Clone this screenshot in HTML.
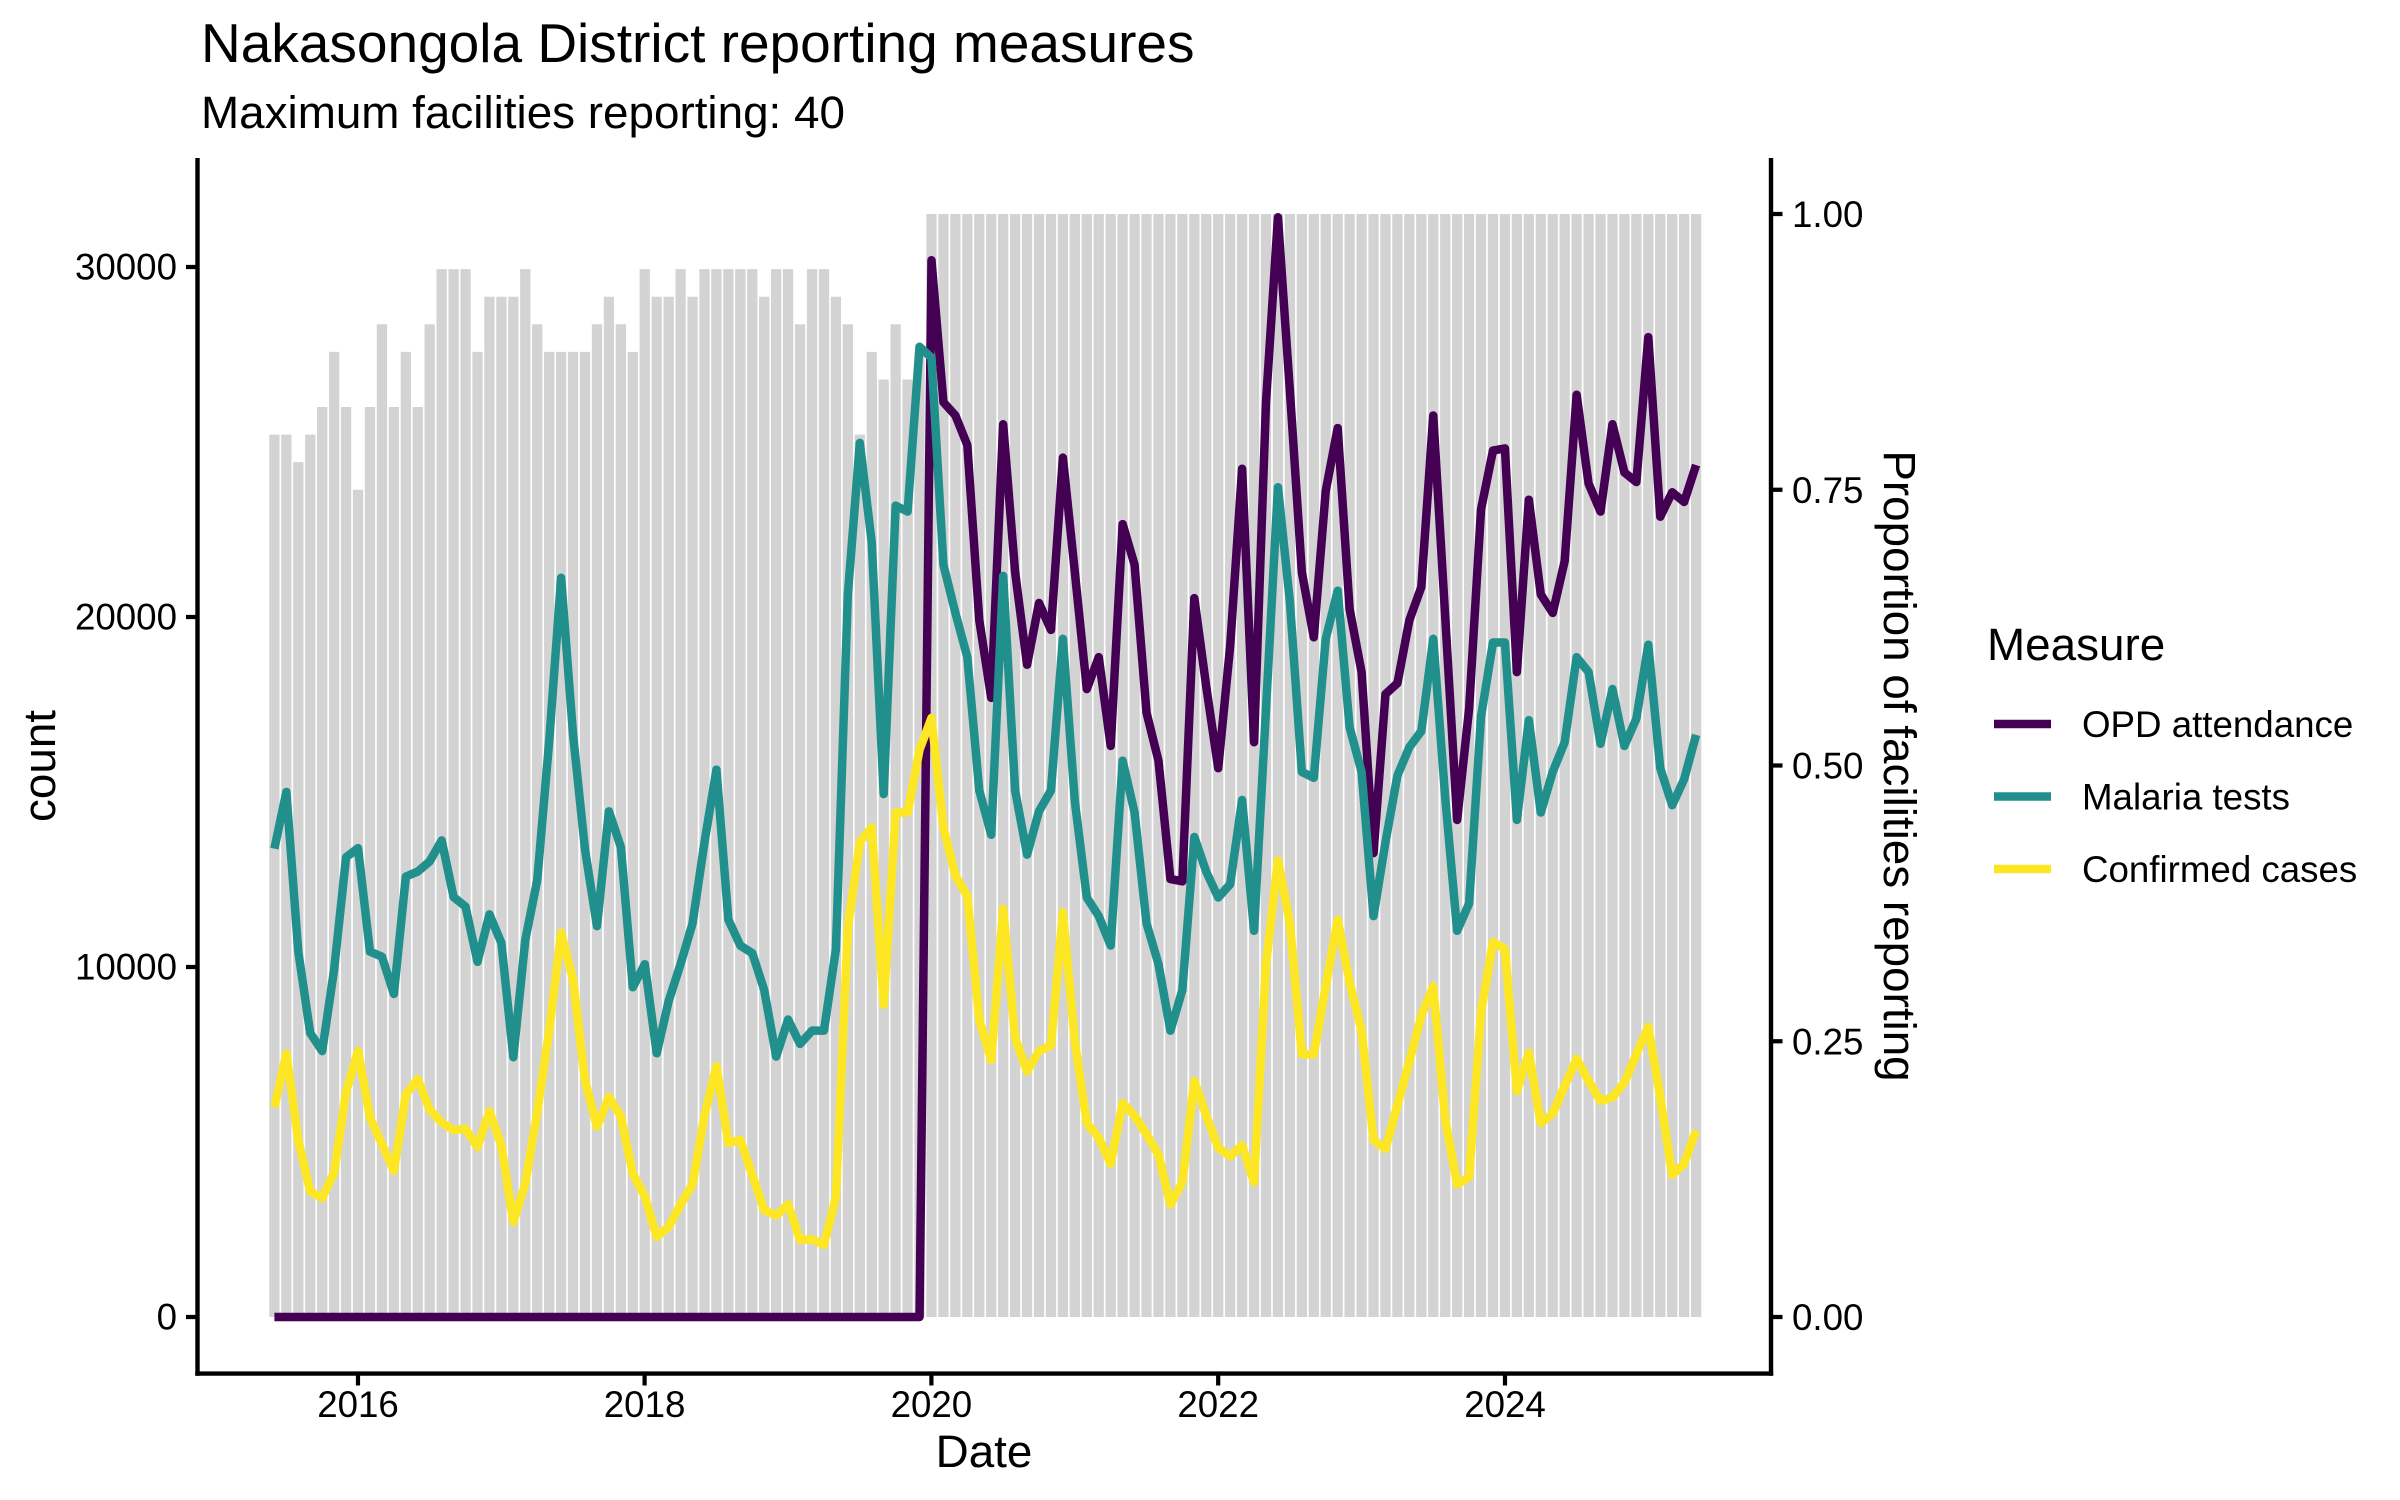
<!DOCTYPE html>
<html>
<head>
<meta charset="utf-8">
<style>
html,body{margin:0;padding:0;background:#fff;}
svg{display:block;}
text{font-family:"Liberation Sans",Arial,Helvetica,sans-serif;fill:#000;}
</style>
</head>
<body>
<svg width="2400" height="1500" viewBox="0 0 2400 1500" xmlns="http://www.w3.org/2000/svg">
<rect x="0" y="0" width="2400" height="1500" fill="#fff"/>

<text x="201" y="62" font-size="55">Nakasongola District reporting measures</text>
<text x="201" y="128" font-size="45.8">Maximum facilities reporting: 40</text>

<g transform="translate(274.4,1317) scale(11.947,-27.575)">
<path fill="#D3D3D3" d="M-0.43 0V32H1.5V31H2.5V32H3.5V33H4.5V35H5.5V33H6.5V30H7.5V33H8.5V36H9.5V33H10.5V35H11.5V33H12.5V36H13.5V38H16.5V35H17.5V37H20.5V38H21.5V36H22.5V35H26.5V36H27.5V37H28.5V36H29.5V35H30.5V38H31.5V37H33.5V38H34.5V37H35.5V38H40.5V37H41.5V38H43.5V36H44.5V38H46.5V37H47.5V36H48.5V32H49.5V35H50.5V34H51.5V36H52.5V34H53.5V35H54.5V40H119.43V0Z"/>
</g>
<line x1="279.535" y1="765.5" x2="1700" y2="765.5" stroke="#fff" stroke-width="1106" stroke-dasharray="1.677 10.27"/>

<g transform="translate(274.4,1317) scale(11.947,-0.035)" fill="none" stroke-linejoin="round" stroke-linecap="butt">
<polyline vector-effect="non-scaling-stroke" stroke="#440154" stroke-width="8.5" points="0,0 54,0 55,30194 56,26138 57,25758 58,24913 59,19909 60,17689 61,25507 62,21280 63,18637 64,20400 65,19631 66,24553 67,21280 68,17941 69,18852 70,16315 71,22654 72,21491 73,17266 74,15893 75,12511 76,12448 77,20540 78,18006 79,15681 80,19166 81,24236 82,16421 83,26138 84,31420 85,26455 86,21280 87,19420 88,23602 89,25398 90,20223 91,18426 92,13253 93,17795 94,18109 95,19909 96,20857 97,25758 98,20012 99,14201 100,17372 101,23076 102,24755 103,24818 104,18426 105,23351 106,20646 107,20117 108,21597 109,26350 110,23813 111,23011 112,25507 113,24130 114,23856 115,27998 116,22865 117,23563 118,23286 119,24342"/>
<polyline vector-effect="non-scaling-stroke" stroke="#21908C" stroke-width="8.5" points="0,13382 1,15001 2,10440 3,8112 4,7598 5,9929 6,13136 7,13396 8,10440 9,10294 10,9229 11,12582 12,12727 13,13019 14,13616 15,11999 16,11722 17,10149 18,11502 19,10685 20,7423 21,10774 22,12479 23,16450 24,21120 25,16633 26,13353 27,11168 28,14448 29,13425 30,9420 31,10080 32,7535 33,9026 34,10083 35,11245 36,13568 37,15639 38,11351 39,10611 40,10397 41,9340 42,7441 43,8498 44,7801 45,8181 46,8181 47,10506 48,20646 49,24975 50,22125 51,14941 52,23182 53,23011 54,27723 55,27406 56,21491 57,20117 58,18852 59,15047 60,13779 61,21174 62,15047 63,13210 64,14450 65,15047 66,19377 67,14730 68,11985 69,11454 70,10611 71,15893 72,14413 73,11245 74,10083 75,8181 76,9340 77,13716 78,12722 79,11985 80,12365 81,14773 82,11034 83,17372 84,23707 85,20434 86,15575 87,15407 88,19377 89,20751 90,16844 91,15575 92,11454 93,13568 94,15470 95,16280 96,16738 97,19377 98,14836 99,11034 100,11813 101,17160 102,19271 103,19271 104,14201 105,17052 106,14413 107,15575 108,16421 109,18852 110,18426 111,16378 112,17941 113,16315 114,17095 115,19209 116,15681 117,14624 118,15364 119,16633"/>
<polyline vector-effect="non-scaling-stroke" stroke="#FDE725" stroke-width="8.5" points="0,5995 1,7523 2,5047 3,3590 4,3399 5,4130 6,6432 7,7598 8,5704 9,4944 10,4173 11,6358 12,6795 13,5921 14,5558 15,5338 16,5381 17,4859 18,5878 19,4901 20,2716 21,3807 22,5850 23,8180 24,10977 25,9637 26,6752 27,5441 28,6287 29,5733 30,4099 31,3450 32,2290 33,2582 34,3216 35,3787 36,5753 37,7167 38,4970 39,5056 40,4062 41,3048 42,2899 43,3216 44,2199 45,2222 46,2056 47,3428 48,11140 49,13568 50,13990 51,8920 52,14413 53,14413 54,16209 55,17118 56,13990 57,12616 58,12025 59,8498 60,7335 61,11668 62,7969 63,7018 64,7600 65,7758 66,11562 67,7863 68,5541 69,5119 70,4379 71,6113 72,5753 73,5224 74,4633 75,3216 76,3850 77,6744 78,5753 79,4841 80,4590 81,4907 82,3850 83,10083 84,13039 85,11245 86,7504 87,7504 88,9449 89,11351 90,9554 91,8181 92,5056 93,4801 94,6050 95,7300 96,8600 97,9449 98,5647 99,3787 100,3999 101,8712 102,10717 103,10506 104,6450 105,7547 106,5541 107,5815 108,6598 109,7378 110,6744 111,6175 112,6278 113,6701 114,7504 115,8286 116,6278 117,4062 118,4379 119,5330"/>
</g>

<g stroke="#000" stroke-width="4.4" stroke-linecap="butt" fill="none">
<line x1="197.5" y1="158" x2="197.5" y2="1375.8"/>
<line x1="195.3" y1="1373.6" x2="1773.2" y2="1373.6"/>
<line x1="1771" y1="158" x2="1771" y2="1375.8"/>
</g>

<path stroke="#000" stroke-width="4.2" fill="none" d="M186 1317H197.5M186 967H197.5M186 617H197.5M186 267H197.5M358 1373.6V1385.5M644.6 1373.6V1385.5M931.4 1373.6V1385.5M1218.2 1373.6V1385.5M1505 1373.6V1385.5M1771 214H1782.5M1771 489.75H1782.5M1771 765.5H1782.5M1771 1041.25H1782.5M1771 1317H1782.5"/>

<g font-size="36.7" text-anchor="end">
<text x="177" y="1329.5">0</text>
<text x="177" y="979.5">10000</text>
<text x="177" y="629.5">20000</text>
<text x="177" y="279.5">30000</text>
</g>

<g font-size="36.7" text-anchor="middle">
<text x="358" y="1417">2016</text>
<text x="644.6" y="1417">2018</text>
<text x="931.4" y="1417">2020</text>
<text x="1218.2" y="1417">2022</text>
<text x="1505" y="1417">2024</text>
</g>

<g font-size="36.7">
<text x="1792" y="227">1.00</text>
<text x="1792" y="502.75">0.75</text>
<text x="1792" y="778.5">0.50</text>
<text x="1792" y="1054.25">0.25</text>
<text x="1792" y="1330">0.00</text>
</g>

<text x="984" y="1467" font-size="45.8" text-anchor="middle">Date</text>
<text transform="translate(55,766) rotate(-90)" font-size="45.8" text-anchor="middle">count</text>
<text transform="translate(1884,766) rotate(90)" font-size="45.8" text-anchor="middle">Proportion of facilities reporting</text>

<text x="1987" y="660" font-size="45.8">Measure</text>
<path stroke="#440154" stroke-width="8.5" d="M1994 724H2051"/>
<path stroke="#21908C" stroke-width="8.5" d="M1994 796.5H2051"/>
<path stroke="#FDE725" stroke-width="8.5" d="M1994 869H2051"/>
<g font-size="36.7">
<text x="2082" y="737">OPD attendance</text>
<text x="2082" y="809.5">Malaria tests</text>
<text x="2082" y="882">Confirmed cases</text>
</g>
</svg>
</body>
</html>
